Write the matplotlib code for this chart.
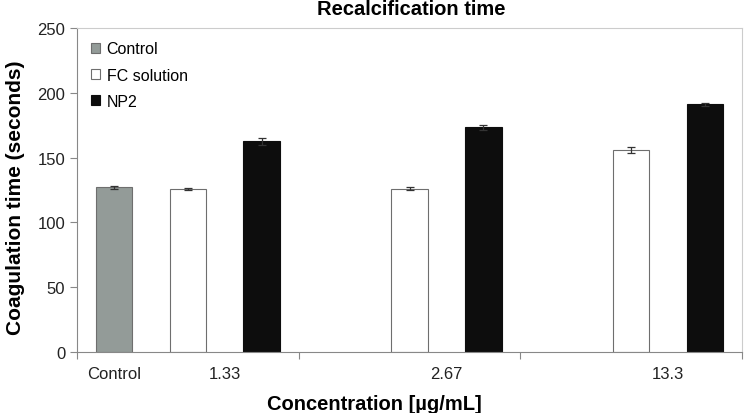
import matplotlib.pyplot as plt
import numpy as np

plt.rcParams['font.family'] = ['Liberation Sans', 'DejaVu Sans']

# data
groups = ['1.33', '2.67', '13.3']
control_val = [127]
control_err = [1.5]
fc_val = [125.5, 126, 156]
fc_err = [0.8, 1.0, 2.5]
np2_val = [162.5, 173.5, 191]
np2_err = [2.5, 2.0, 1.5]

fig = plt.figure(figsize=(7.48, 4.14), dpi=100)
ax = fig.add_axes([0.103, 0.147, 0.889, 0.783])

x = np.arange(len(groups)) + 0.5
w = 0.165
ekw = dict(ecolor='#333333', elinewidth=0.9, capsize=3, capthick=0.9)

# control bar only sits in the first group
ax.bar(x[:1] - 1/3, control_val, w, yerr=control_err, color='#939b98',
       edgecolor='#6e6e6e', linewidth=0.8, label='Control', error_kw=ekw)
ax.bar(x, fc_val, w, yerr=fc_err, color='white',
       edgecolor='#6e6e6e', linewidth=0.8, label='FC solution', error_kw=ekw)
ax.bar(x + 1/3, np2_val, w, yerr=np2_err, color='#0d0d0d',
       edgecolor='#0d0d0d', linewidth=0.8, label='NP2', error_kw=ekw)

ax.set_xlim(0, len(groups))
ax.set_ylim(0, 250)
ax.set_yticks(np.arange(0, 251, 50))

# category boundaries as ticks, labels placed as minor ticks
ax.set_xticks(np.arange(0, len(groups) + 1))
ax.set_xticklabels([])
ax.set_xticks(list(x[:1] - 1/3) + list(x + 1/6), minor=True)
ax.set_xticklabels(['Control'] + groups, minor=True)
ax.tick_params(axis='x', which='minor', length=0, pad=10, labelsize=12, colors='#222222')
ax.tick_params(axis='x', which='major', length=5, color='#888888')
ax.tick_params(axis='y', length=5, color='#888888', labelsize=12, labelcolor='#222222')

for s in ['left', 'bottom']:
    ax.spines[s].set_color('#888888')
for s in ['top', 'right']:
    ax.spines[s].set_color('#cccccc')
    ax.spines[s].set_linewidth(0.8)

ax.set_ylabel('Coagulation time (seconds)', fontsize=15, fontweight='bold', va='center')
ax.yaxis.set_label_coords(16 / 748, 1 - 198 / 414, transform=fig.transFigure)
ax.set_xlabel('Concentration [\u00b5g/mL]', fontsize=14.5, fontweight='bold', va='baseline')
ax.xaxis.set_label_coords(0.5, 4 / 414, transform=fig.transFigure)
fig.text(0.55, 1 - 15 / 414, 'Recalcification time', fontsize=14.5,
         fontweight='bold', ha='center', va='baseline')

leg = ax.legend(loc='upper left', frameon=False, fontsize=11.5, handlelength=0.55,
                handleheight=0.55, handletextpad=0.4, labelspacing=0.7,
                bbox_to_anchor=(0.0, 1.003))

fig.savefig('out.png', dpi=100)
